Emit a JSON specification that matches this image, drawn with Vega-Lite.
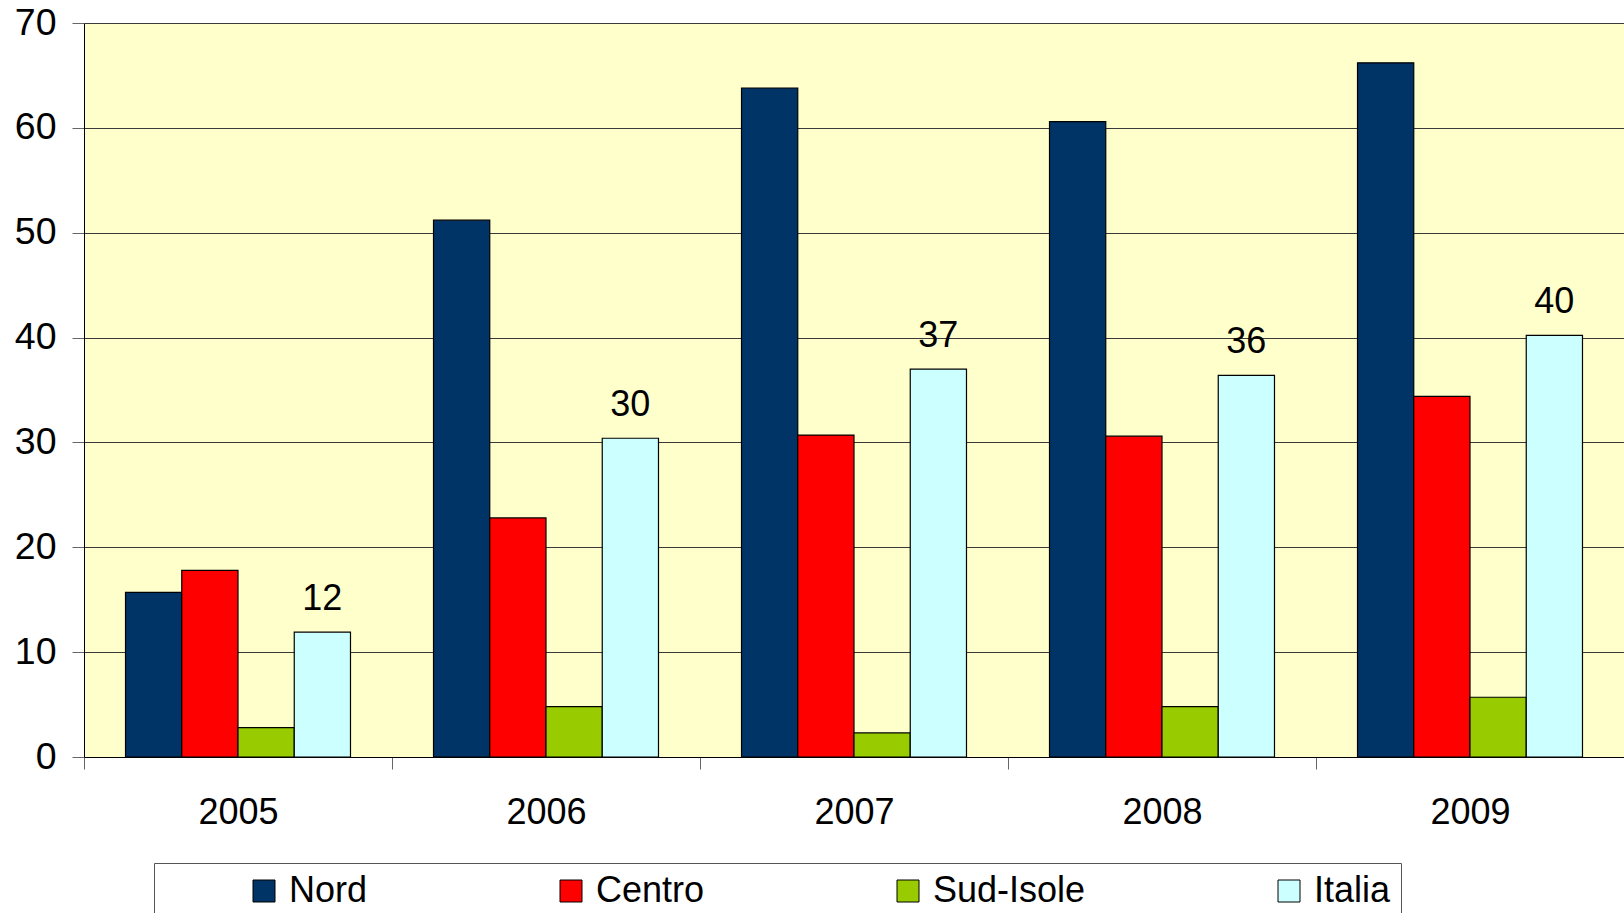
{
  "$schema": "https://vega.github.io/schema/vega-lite/v6.json",
  "autosize": {"type": "none"},
  "padding": {"left": 84, "top": 23, "right": 0, "bottom": 156},
  "width": 1540,
  "height": 734,
  "background": "white",
  "config": {
    "view": {"fill": "#FFFFCC", "stroke": null},
    "font": "Liberation Sans"
  },
  "data": {
    "values": [
      {"anno": "2005", "area": "Nord", "valore": 15.7},
      {"anno": "2005", "area": "Centro", "valore": 17.8},
      {"anno": "2005", "area": "Sud-Isole", "valore": 2.8},
      {"anno": "2005", "area": "Italia", "valore": 11.9},
      {"anno": "2006", "area": "Nord", "valore": 51.2},
      {"anno": "2006", "area": "Centro", "valore": 22.8},
      {"anno": "2006", "area": "Sud-Isole", "valore": 4.8},
      {"anno": "2006", "area": "Italia", "valore": 30.4},
      {"anno": "2007", "area": "Nord", "valore": 63.8},
      {"anno": "2007", "area": "Centro", "valore": 30.7},
      {"anno": "2007", "area": "Sud-Isole", "valore": 2.3},
      {"anno": "2007", "area": "Italia", "valore": 37.0},
      {"anno": "2008", "area": "Nord", "valore": 60.6},
      {"anno": "2008", "area": "Centro", "valore": 30.6},
      {"anno": "2008", "area": "Sud-Isole", "valore": 4.8},
      {"anno": "2008", "area": "Italia", "valore": 36.4},
      {"anno": "2009", "area": "Nord", "valore": 66.2},
      {"anno": "2009", "area": "Centro", "valore": 34.4},
      {"anno": "2009", "area": "Sud-Isole", "valore": 5.7},
      {"anno": "2009", "area": "Italia", "valore": 40.2}
    ]
  },
  "encoding": {
    "x": {
      "field": "anno",
      "type": "nominal",
      "scale": {"paddingInner": 0, "paddingOuter": 0},
      "axis": {
        "title": null,
        "labelAngle": 0,
        "labelFontSize": 36,
        "labelColor": "black",
        "labelPadding": 26,
        "domainColor": "black",
        "domainWidth": 1,
        "tickColor": "#666666",
        "tickSize": 12,
        "tickBand": "extent",
        "grid": false
      }
    },
    "xOffset": {
      "field": "area",
      "type": "nominal",
      "sort": ["Nord", "Centro", "Sud-Isole", "Italia"],
      "scale": {"paddingInner": 0, "paddingOuter": 0.738}
    },
    "y": {
      "field": "valore",
      "type": "quantitative",
      "scale": {"domain": [0, 70], "nice": false},
      "axis": {
        "title": null,
        "values": [0, 10, 20, 30, 40, 50, 60, 70],
        "labelFontSize": 37.5,
        "labelColor": "black",
        "labelPadding": 16,
        "domainColor": "black",
        "domainWidth": 1,
        "tickColor": "#666666",
        "tickSize": 12,
        "grid": true,
        "gridColor": "#3a3a3a",
        "gridWidth": 1
      }
    }
  },
  "layer": [
    {
      "mark": {"type": "bar", "stroke": "black", "strokeWidth": 1.2},
      "encoding": {
        "color": {
          "field": "area",
          "type": "nominal",
          "sort": ["Nord", "Centro", "Sud-Isole", "Italia"],
          "scale": {
            "domain": ["Nord", "Centro", "Sud-Isole", "Italia"],
            "range": ["#003366", "#FF0000", "#99CC00", "#CCFFFF"]
          },
          "legend": {
            "title": " ",
            "titleFontSize": 2,
            "titleOrient": "left",
            "titlePadding": 82,
            "orient": "none",
            "legendX": 70,
            "legendY": 840,
            "direction": "horizontal",
            "columns": 4,
            "columnPadding": 185,
            "padding": 10,
            "strokeColor": "#555555",
            "fillColor": "white",
            "symbolType": "square",
            "symbolSize": 484,
            "symbolStrokeColor": "black",
            "symbolStrokeWidth": 1,
            "symbolOpacity": 1,
            "labelFontSize": 36,
            "labelColor": "black",
            "labelOffset": 7,
            "labelLimit": 400
          }
        }
      }
    },
    {
      "transform": [{"filter": "datum.area === 'Italia'"}],
      "mark": {"type": "text", "baseline": "bottom", "dy": -14, "fontSize": 36, "color": "black"},
      "encoding": {
        "text": {"field": "valore", "type": "quantitative", "format": ".0f"}
      }
    }
  ]
}
